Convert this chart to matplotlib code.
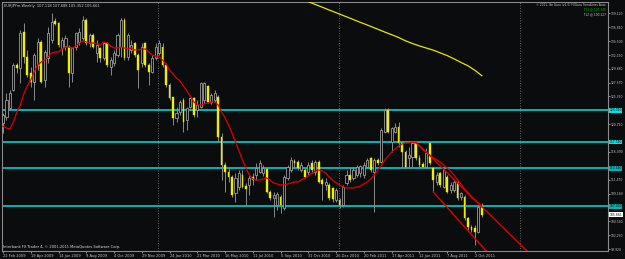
import numpy as np
import matplotlib
matplotlib.use('Agg')
import matplotlib.pyplot as plt

# ---------------- data (EURJPYm, weekly) ----------------
opens = [
    120.90, 121.90, 123.39, 126.38, 130.53, 130.04, 136.01, 131.86, 129.20, 127.71,
    130.53, 134.35, 128.04, 131.70, 134.69, 137.84, 137.51, 133.36, 133.69, 133.52,
    129.20, 133.52, 134.35, 135.02, 138.01, 134.19, 135.52, 132.53, 133.36, 131.70,
    134.19, 130.20, 130.87, 132.19, 133.52, 138.01, 131.86, 133.03, 134.19, 132.19,
    130.87, 134.19, 130.53, 129.37, 131.70, 132.53, 133.52, 130.53, 127.21, 125.22,
    121.73, 122.73, 124.72, 121.40, 123.56, 125.05, 123.06, 123.56, 124.72, 127.05,
    124.39, 124.72, 125.22, 118.58, 113.92, 112.76, 111.93, 109.27, 110.27, 112.26,
    110.44, 110.60, 111.93, 112.26, 112.76, 112.60, 113.26, 109.44, 108.44, 107.28,
    108.61, 106.78, 111.77, 113.09, 114.59, 114.42, 113.09, 113.09, 112.76, 114.26,
    112.76, 114.42, 111.43, 110.60, 110.60, 110.11, 108.11, 108.11, 107.28, 110.94,
    112.26, 111.77, 112.26, 112.60, 112.26, 113.59, 115.09, 112.76, 114.75, 114.42,
    119.41, 123.06, 117.74, 119.41, 120.24, 117.58, 116.08, 115.09, 115.25, 117.58,
    115.09, 114.09, 113.59, 117.58, 113.43, 111.10, 112.60, 110.27, 111.93, 109.77,
    109.77, 111.10, 108.61, 108.61, 105.12, 103.63, 103.46, 102.80, 107.118]
highs = [
    122.56, 125.88, 126.38, 130.87, 130.87, 136.35, 137.51, 133.03, 130.20, 132.53,
    135.02, 134.69, 133.03, 136.85, 139.17, 138.34, 137.68, 135.18, 135.52, 133.86,
    133.52, 136.01, 136.68, 138.67, 138.34, 135.85, 135.85, 134.69, 133.52, 134.35,
    134.35, 131.86, 133.03, 135.85, 138.34, 138.34, 135.85, 134.69, 134.35, 132.53,
    134.19, 134.35, 130.87, 132.19, 134.19, 134.69, 134.19, 130.87, 127.54, 125.22,
    123.56, 124.72, 125.05, 123.56, 125.22, 125.22, 124.72, 127.71, 127.71, 127.21,
    125.88, 126.38, 125.55, 119.24, 114.42, 113.43, 112.26, 112.60, 113.09, 113.09,
    110.94, 112.26, 112.60, 114.26, 114.75, 113.92, 113.43, 109.77, 109.44, 109.44,
    108.94, 112.26, 113.92, 115.25, 114.92, 114.75, 114.42, 113.43, 114.42, 114.75,
    114.75, 114.75, 111.77, 111.77, 110.94, 110.27, 110.11, 108.44, 110.60, 113.09,
    113.59, 113.59, 113.92, 113.92, 114.42, 115.09, 115.25, 115.09, 115.09, 120.07,
    123.39, 123.39, 120.24, 120.90, 121.07, 117.74, 116.42, 116.91, 117.74, 117.74,
    115.59, 114.42, 116.75, 117.74, 113.59, 112.76, 112.76, 113.59, 112.26, 111.10,
    111.43, 111.43, 109.44, 108.94, 105.29, 103.96, 103.96, 107.28, 107.688]
lows = [
    119.24, 121.40, 123.06, 126.21, 129.20, 127.54, 130.87, 128.54, 126.88, 124.72,
    129.70, 127.54, 126.88, 130.87, 134.19, 137.18, 133.52, 132.19, 133.03, 126.88,
    127.71, 133.03, 133.86, 134.69, 133.86, 133.52, 133.36, 131.03, 131.03, 131.36,
    130.20, 128.87, 130.37, 131.86, 131.86, 131.36, 131.36, 132.53, 131.86, 126.71,
    130.20, 130.20, 127.21, 129.20, 131.36, 132.19, 130.20, 126.88, 124.72, 120.57,
    121.07, 122.23, 119.41, 119.74, 123.39, 121.90, 121.90, 123.39, 124.22, 124.22,
    124.06, 124.39, 117.74, 111.43, 109.44, 111.10, 108.61, 107.78, 109.77, 110.11,
    107.28, 108.94, 110.60, 111.43, 112.60, 112.10, 109.27, 108.11, 105.29, 106.45,
    105.95, 106.45, 111.43, 112.76, 113.59, 113.09, 112.76, 111.77, 112.26, 112.60,
    112.26, 110.94, 108.11, 109.77, 108.11, 107.78, 107.78, 106.78, 106.95, 110.60,
    111.10, 111.43, 111.93, 111.93, 111.77, 113.43, 112.76, 106.12, 113.92, 114.26,
    119.24, 119.24, 116.08, 119.24, 116.91, 113.43, 113.43, 113.43, 113.43, 114.75,
    113.59, 113.59, 113.43, 113.92, 109.44, 110.60, 110.27, 110.11, 109.27, 109.27,
    109.44, 108.11, 108.11, 104.79, 103.13, 102.80, 100.64, 102.63, 105.352]
closes = [
    122.23, 124.72, 125.88, 130.53, 130.04, 135.85, 131.86, 128.87, 127.71, 132.19,
    134.35, 127.71, 132.69, 135.85, 137.68, 137.34, 133.86, 134.69, 135.02, 129.20,
    133.36, 135.85, 136.01, 138.01, 134.19, 135.52, 133.52, 133.86, 131.70, 134.19,
    130.53, 131.36, 132.53, 135.52, 138.01, 131.70, 135.52, 133.86, 132.19, 129.70,
    133.52, 130.53, 129.37, 131.70, 133.52, 134.19, 130.53, 127.21, 125.05, 121.73,
    122.56, 124.39, 121.07, 123.39, 125.05, 122.23, 123.89, 127.54, 127.54, 124.39,
    125.55, 125.88, 118.58, 113.92, 112.76, 111.93, 108.94, 111.77, 112.60, 110.27,
    109.94, 111.77, 111.43, 113.43, 114.26, 113.43, 109.44, 108.44, 108.94, 109.11,
    107.28, 111.93, 113.59, 114.75, 114.26, 113.43, 113.92, 111.93, 113.92, 113.09,
    114.42, 111.10, 110.77, 111.10, 108.44, 108.28, 109.77, 107.28, 110.27, 112.26,
    111.43, 113.09, 113.59, 113.76, 113.92, 114.75, 113.09, 114.75, 114.26, 119.74,
    123.06, 119.41, 120.07, 120.24, 117.58, 116.08, 113.59, 115.59, 117.58, 115.09,
    113.92, 113.67, 115.92, 114.26, 111.43, 112.26, 110.60, 113.09, 109.44, 110.60,
    111.10, 108.44, 109.27, 105.12, 103.63, 103.13, 102.80, 106.95, 105.661]

# red moving average (as drawn by the terminal)
ma_red = [
    120.32, 120.07, 119.90, 121.07, 122.73, 123.89, 125.72, 127.05, 128.04, 129.37,
    130.53, 131.03, 131.36, 131.86, 132.53, 132.69, 132.69, 133.19, 133.52, 133.52,
    133.36, 133.69, 134.19, 134.52, 134.35, 134.19, 134.19, 134.02, 133.86, 134.35,
    134.19, 133.69, 133.36, 133.36, 133.52, 133.36, 133.19, 133.36, 133.03, 133.03,
    133.19, 133.19, 132.69, 132.19, 132.03, 131.86, 131.36, 130.70, 129.70, 129.04,
    128.37, 127.88, 127.05, 126.21, 125.38, 124.39, 123.89, 123.89, 124.06, 124.22,
    124.39, 124.39, 123.89, 122.73, 121.73, 120.57, 119.24, 117.74, 116.25, 114.75,
    113.43, 112.26, 111.60, 111.43, 111.43, 111.60, 111.77, 111.43, 110.94, 110.77,
    110.60, 110.60, 110.77, 110.94, 111.10, 111.10, 111.43, 111.77, 112.10, 112.60,
    112.93, 113.09, 112.93, 112.60, 111.93, 111.43, 110.94, 110.60, 110.27, 110.11,
    110.11, 110.11, 110.27, 110.44, 110.77, 111.10, 111.60, 112.26, 113.09, 113.76,
    114.75, 115.42, 116.08, 116.58, 117.08, 117.41, 117.58, 117.58, 117.74, 117.58,
    117.08, 116.42, 116.08, 115.59, 115.09, 114.75, 114.42, 113.92, 113.43, 112.93,
    112.26, 111.43, 110.77, 109.94, 109.27, 108.61, 108.11, 107.61, 106.95]

# yellow long moving average (every second bar)
ma_yel_bar = [86, 88, 90, 92, 94, 96, 98, 100, 102, 104, 106, 108, 110, 112,
              114, 116, 118, 120, 122, 124, 126, 128, 130, 132, 134, 136, 138]
ma_yel = [141.50, 141.05, 140.59, 140.13, 139.67, 139.22, 138.76, 138.31, 137.84,
          137.39, 136.94, 136.48, 136.01, 135.57, 135.10, 134.55, 134.10, 133.70,
          133.35, 133.00, 132.55, 132.10, 131.55, 130.95, 130.40, 129.65, 128.75]

# horizontal levels (cyan) and trend lines (red): (bar, price) anchors
levels_bright = [123.01, 117.74]
levels_dark = [113.34, 107.03]
tl_upper = [(119, 117.74), (150, 100.20)]
tl_lower = [(124, 109.44), (139, 99.80)]

year_sep_bars = [44.71, 96.86, 149.0]

price_ticks = [139.120, 136.810, 134.500, 132.190, 129.880, 127.570, 125.330,
               120.710, 116.090, 111.470, 109.160, 104.540, 102.230, 99.920]
date_labels = ['22 Feb 2009', '19 Apr 2009', '14 Jun 2009', '9 Aug 2009',
               '4 Oct 2009', '29 Nov 2009', '24 Jan 2010', '21 Mar 2010',
               '16 May 2010', '11 Jul 2010', '5 Sep 2010', '31 Oct 2010',
               '26 Dec 2010', '20 Feb 2011', '17 Apr 2011', '12 Jun 2011',
               '7 Aug 2011', '2 Oct 2011']
header = 'EURJPYm,Weekly  107.118 107.688 105.352 105.661'
footer = 'Interbank FX Trader 4, \u00a9 2001-2011 MetaQuotes Software Corp.'

# ---------------- figure ----------------
W, H = 625, 259
BG = '#0b0c0e'
GRID = '#8a8a8a'
FS = 2.6
FSY = 2.15
fig = plt.figure(figsize=(W / 100, H / 100), dpi=100)
fig.patch.set_facecolor(BG)
L, R, T, B = 2, 608, 2, 251
ax = fig.add_axes([L / W, 1 - B / H, (R - L) / W, (B - T) / H])
ax.set_facecolor(BG)

px_per_bar = 3.47
px_per_price = 6.02
x0 = (L - 3) / px_per_bar
ax.set_xlim(x0, x0 + (R - L) / px_per_bar)
ax.set_ylim(141.33 - B / px_per_price, 141.33 - T / px_per_price)

o = np.array(opens); h = np.array(highs); lo = np.array(lows); c = np.array(closes)
x = np.arange(len(o))
bull = c >= o
bot = np.minimum(o, c)
hgt = np.maximum(np.abs(c - o), 0.12)

for xs in year_sep_bars:
    ax.axvline(xs, color='#6e6e6e', lw=0.6, ls=(0, (1.2, 1.8)), zorder=1)

for lv in levels_bright:
    ax.axhline(lv, color='#00e4e4', lw=1.1, zorder=2)
for lv in levels_dark:
    ax.axhline(lv, color='#00b4b4', lw=1.4, zorder=2)

ax.vlines(x, lo, h, colors=GRID, lw=0.7, zorder=3)
ax.bar(x[bull], hgt[bull], bottom=bot[bull], width=0.6, facecolor=BG,
       edgecolor='#9a9a9a', lw=0.6, zorder=4)
ax.bar(x[~bull], hgt[~bull], bottom=bot[~bull], width=0.5, facecolor='#f4f400',
       edgecolor='#e0e000', lw=0.3, zorder=4)

ax.plot(x, ma_red, color='#e00000', lw=0.9, zorder=5)
ax.plot(ma_yel_bar, ma_yel, color='#e6e600', lw=0.9, zorder=5)

for (xa, ya), (xb, yb) in (tl_upper, tl_lower):
    slope = (yb - ya) / (xb - xa)
    xe = 200
    ax.plot([xa, xe], [ya, ya + slope * (xe - xa)], color='#e00000', lw=1.0, zorder=5)

for s in ('left', 'top', 'right', 'bottom'):
    ax.spines[s].set_color('#8a8a8a')
    ax.spines[s].set_linewidth(0.8)
ax.yaxis.tick_right()
ax.set_yticks(price_ticks)
ax.set_yticklabels([f'{p:.3f}' for p in price_ticks])
ax.tick_params(axis='y', colors='#c8c8c8', labelsize=FSY, length=1.5, width=0.5, pad=0.5)
ax.set_xticks(np.arange(len(date_labels)) * 8)
ax.set_xticklabels(date_labels, ha='left')
ax.tick_params(axis='x', colors='#c8c8c8', labelsize=FS, length=1.5, width=0.5, pad=0.4)

tr = ax.get_yaxis_transform()
tags = [(levels_bright[0], '#00e4e4'), (levels_bright[1], '#00e4e4'),
        (levels_dark[0], '#00b4b4'), (levels_dark[1], '#00b4b4'),
        (closes[-1], '#ffffff')]
for lv, col in tags:
    ax.text(1.0025, lv, f'{lv:.3f}', transform=tr, fontsize=FSY, color='#000000',
            va='center', ha='left', clip_on=False, zorder=10,
            bbox=dict(boxstyle='square,pad=0.1', fc=col, ec='none'))

fig.text(4 / W, 1 - 6 / H, header, fontsize=FS, color='#d0d0d0', va='center', ha='left')
fig.text(3 / W, 1 - 247 / H, footer, fontsize=FS, color='#e0e0e0', va='center', ha='left')
fig.text(606 / W, 1 - 5 / H, '\u00a9 2011, Ike Guru (v1.0) FXGuru TrendLines Auto',
         fontsize=2.1, color='#d0d0d0', va='center', ha='right')
fig.text(606 / W, 1 - 9.5 / H, 'TL1 @ 107.145', fontsize=2.1, color='#00c000',
         va='center', ha='right')
fig.text(606 / W, 1 - 14 / H, 'TL2 @ 100.127', fontsize=2.1, color='#d0d0d0',
         va='center', ha='right')

fig.savefig('out.png', dpi=100, facecolor=BG)
